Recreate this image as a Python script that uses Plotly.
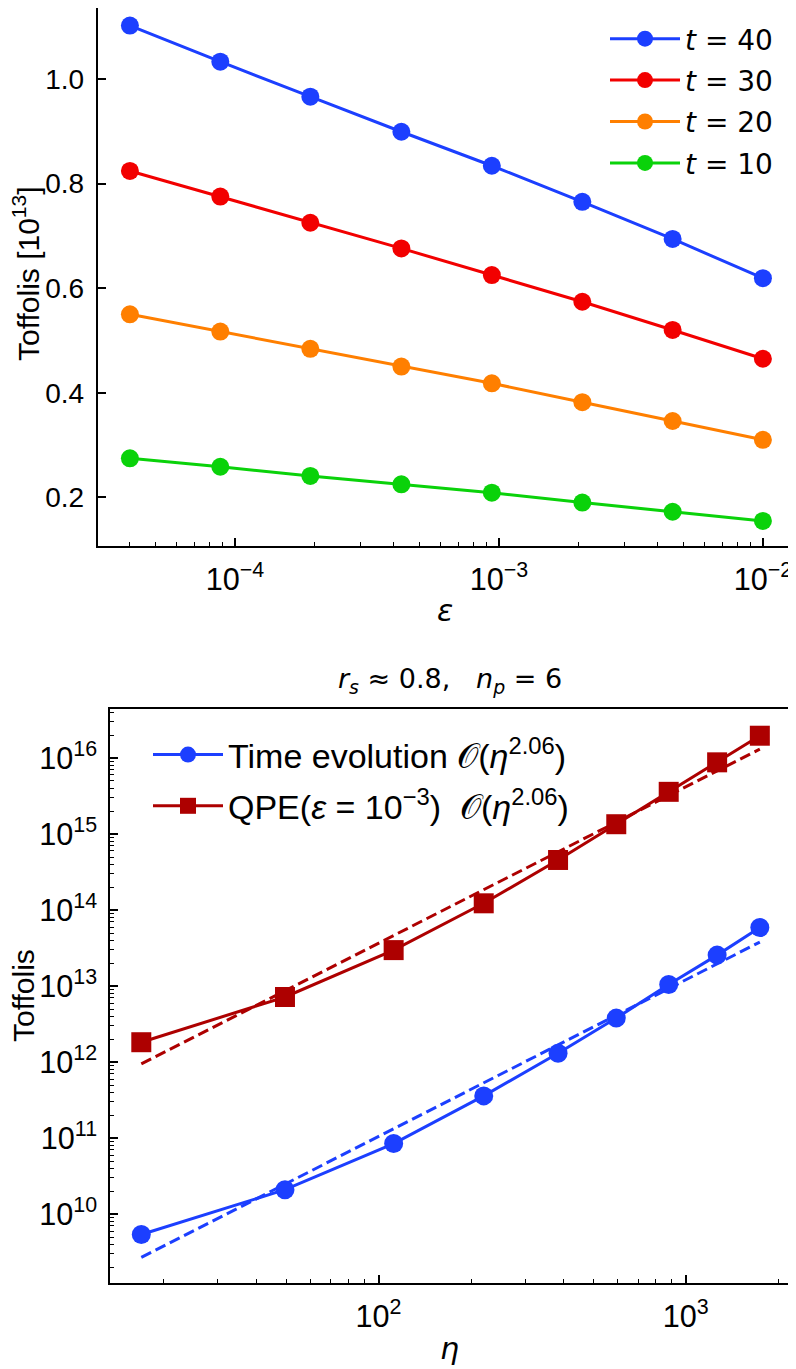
import plotly.graph_objects as go

# ---------------- data ----------------
# top panel: Toffolis [1e13] vs epsilon
eps = [4.0e-5, 8.8e-5, 1.93e-4, 4.27e-4, 9.4e-4, 2.07e-3, 4.55e-3, 1.0e-2]
t_labels = ["40", "30", "20", "10"]
toff_t40 = [1.102, 1.033, 0.966, 0.899, 0.834, 0.765, 0.694, 0.619]
toff_t30 = [0.824, 0.775, 0.725, 0.676, 0.625, 0.574, 0.520, 0.465]
toff_t20 = [0.550, 0.517, 0.484, 0.450, 0.418, 0.382, 0.346, 0.310]
toff_t10 = [0.2746, 0.2585, 0.241, 0.225, 0.209, 0.190, 0.1725, 0.155]

# bottom panel: Toffolis vs eta
eta = [16.9, 49.6, 112, 220, 384, 594, 880, 1265, 1742]
time_evol = [5.4e9, 2.1e10, 8.5e10, 3.6e11, 1.31e12, 3.8e12, 1.05e13, 2.56e13, 5.9e13]
qpe = [1.83e12, 7.2e12, 2.98e13, 1.23e14, 4.57e14, 1.35e15, 3.6e15, 8.8e15, 1.97e16]
eta_fit = [16.9, 1742]
time_evol_fit = [2.7e9, 3.8e13]
qpe_fit = [9.5e11, 1.31e16]

# ---------------- style ----------------
PAGE_W, PAGE_H = 796, 1369
OFF = 8  # default body margin of the html page
W, H = PAGE_W - OFF, PAGE_H - OFF
BLUE = "#1c3fff"
RED = "#f20000"
ORANGE = "#ff7f00"
GREEN = "#0ad20a"
DRED = "#ad0000"
SANS = "Liberation Sans, Arial, sans-serif"
MATH = "DejaVu Sans, sans-serif"


def px_x(x):
    return min(1.0, max(0.0, (x - OFF) / W))


def px_y(y):
    return min(1.0, max(0.0, 1 - (y - OFF) / H))


fig = go.Figure()

top_series = [toff_t40, toff_t30, toff_t20, toff_t10]
top_colors = [BLUE, RED, ORANGE, GREEN]
for lab, ys, c in zip(t_labels, top_series, top_colors):
    fig.add_trace(go.Scatter(
        x=eps, y=ys, mode="lines+markers", name=f"<i>t</i> = {lab}",
        line=dict(color=c, width=3), marker=dict(color=c, size=18, symbol="circle"),
        xaxis="x", yaxis="y", legend="legend", legendgroup=lab,
    ))

# bottom panel
fig.add_trace(go.Scatter(
    x=eta_fit, y=time_evol_fit, mode="lines", showlegend=False,
    line=dict(color=BLUE, width=3, dash="11px,5px"), xaxis="x2", yaxis="y2"))
fig.add_trace(go.Scatter(
    x=eta_fit, y=qpe_fit, mode="lines", showlegend=False,
    line=dict(color=DRED, width=3, dash="11px,5px"), xaxis="x2", yaxis="y2"))
fig.add_trace(go.Scatter(
    x=eta, y=time_evol, mode="lines+markers",
    name="Time evolution \U0001D4AA(<i>η</i><sup>2.06</sup>)",
    line=dict(color=BLUE, width=3), marker=dict(color=BLUE, size=19, symbol="circle"),
    xaxis="x2", yaxis="y2", legend="legend2", legendgroup="te"))
fig.add_trace(go.Scatter(
    x=eta, y=qpe, mode="lines+markers",
    name="QPE(<i>ε</i> = 10<sup>−3</sup>)\u00a0\u00a0\U0001D4AA(<i>η</i><sup>2.06</sup>)",
    line=dict(color=DRED, width=3), marker=dict(color=DRED, size=20, symbol="square"),
    xaxis="x2", yaxis="y2", legend="legend2", legendgroup="qpe"))

axis_common = dict(
    showline=True, linecolor="black", linewidth=2, mirror=True,
    ticks="inside", ticklen=8, tickwidth=1.5, tickcolor="black",
    showgrid=False, zeroline=False, automargin=False, ticklabelstandoff=6,
)
log_minor = dict(ticks="inside", ticklen=4, tickwidth=1.2, tickcolor="black",
                 showgrid=False, dtick="D1")
LOGFONT = dict(family=SANS, size=24.5, color="black")

fig.update_layout(
    width=W, height=H,
    margin=dict(l=0, r=0, t=0, b=0),
    paper_bgcolor="white", plot_bgcolor="white",
    xaxis=dict(**axis_common, type="log", range=[-4.52, -1.886],
               domain=[px_x(97.7), px_x(793)], anchor="y",
               dtick=1, exponentformat="power", showexponent="all",
               tickfont=LOGFONT, minor=log_minor),
    yaxis=dict(**axis_common, range=[0.107, 1.1356],
               domain=[px_y(546), px_y(8)], anchor="x",
               tickvals=[0.2, 0.4, 0.6, 0.8, 1.0], tickformat=".1f",
               tickfont=dict(family=SANS, size=28, color="black")),
    xaxis2=dict(**axis_common, type="log", range=[1.126, 3.336],
                domain=[px_x(110), px_x(789)], anchor="y2",
                dtick=1, exponentformat="power", showexponent="all",
                tickfont=LOGFONT, minor=log_minor),
    yaxis2=dict(**axis_common, type="log", range=[9.095, 16.646],
                domain=[px_y(1283), px_y(709)], anchor="x2",
                dtick=1, exponentformat="power", showexponent="all",
                tickfont=LOGFONT, minor=log_minor),
    legend=dict(x=px_x(605), y=px_y(14), xanchor="left", yanchor="top",
                bgcolor="rgba(0,0,0,0)", font=dict(family=MATH, size=28, color="black"),
                tracegroupgap=2, itemwidth=70),
    legend2=dict(x=px_x(148), y=px_y(726), xanchor="left", yanchor="top",
                 bgcolor="rgba(0,0,0,0)", font=dict(family=SANS, size=34, color="black"),
                 tracegroupgap=4, itemwidth=70),
    showlegend=True,
)

annotations = [
    dict(text="Toffolis [10<sup>13</sup>]", x=px_x(26), y=px_y(274), textangle=-90,
         font=dict(family=SANS, size=30, color="black")),
    dict(text="<i>ε</i>", x=px_x(445), y=px_y(611),
         font=dict(family=MATH, size=30, color="black")),
    dict(text="<i>r<sub>s</sub></i> ≈ 0.8,\u00a0\u00a0\u00a0<i>n<sub>p</sub></i> = 6",
         x=px_x(450), y=px_y(680), font=dict(family=MATH, size=27, color="black")),
    dict(text="<i>η</i>", x=px_x(449), y=px_y(1348),
         font=dict(family=MATH, size=30, color="black")),
    dict(text="Toffolis", x=px_x(24), y=px_y(996), textangle=-90,
         font=dict(family=SANS, size=30, color="black")),
]
for a in annotations:
    a.update(xref="paper", yref="paper", showarrow=False, xanchor="center", yanchor="middle")
fig.update_layout(annotations=annotations)

fig.write_html("out.html")
